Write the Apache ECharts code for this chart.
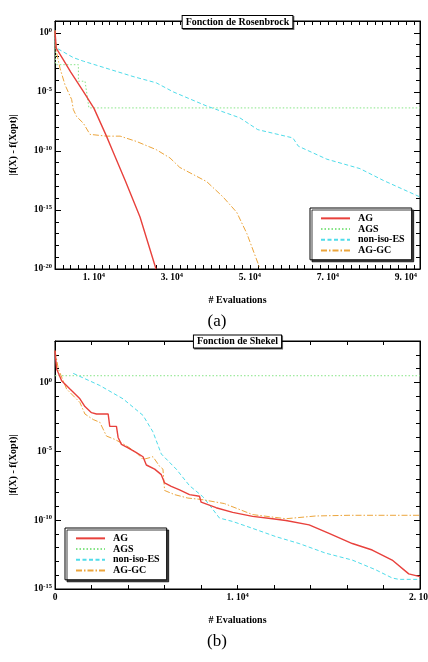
<!DOCTYPE html>
<html><head><meta charset="utf-8">
<script src="https://cdn.jsdelivr.net/npm/echarts@6/dist/echarts.min.js"></script>
<style>html,body{margin:0;padding:0;background:#fff}#c{width:428px;height:662px}</style>
</head><body><div id="c"></div>
<script>
// ---- data (y values are log10 of |f(X) - f(Xopt)|) ----
const seriesNames = ['AG', 'AGS', 'non-iso-ES', 'AG-GC'];
const titles = ['Fonction de Rosenbrock', 'Fonction de Shekel'];
const captions = ['(a)', '(b)'];
const yAxisTitle = '|f(X) - f(Xopt)|';
const xAxisTitle = '# Evaluations';

// (a) Rosenbrock
const rosenAG_x   = [0, 300, 2000, 4000, 7260, 10000, 13200, 14800, 18000, 21800, 25900];
const rosenAG_y   = [0.2, -1.3, -2.2, -3.3, -4.95, -6.4, -8.75, -10, -12.5, -15.6, -20];
const rosenAGS_x  = [0, 150, 6000, 6000, 7700, 8700, 93600];
const rosenAGS_y  = [0.2, -2.7, -2.7, -4.1, -4.1, -6.36, -6.36];
const rosenES_x   = [0, 300, 4700, 7260, 20000, 26000, 30300, 38900, 47400, 52000, 61000, 62400, 69700, 78200, 84200, 93600];
const rosenES_y   = [0.2, -1.27, -2.1, -2.4, -3.7, -4.24, -5.0, -6.2, -7.2, -8.2, -8.9, -9.6, -10.7, -11.5, -12.5, -13.9];
const rosenGC_x   = [0, 300, 1280, 2560, 4270, 4700, 5560, 7260, 8970, 13200, 16700, 20900, 26000, 29500, 32000, 38900, 43100, 46600, 49200, 52600];
const rosenGC_y   = [0.2, -1.5, -3.0, -4.4, -5.65, -6.5, -7.1, -7.65, -8.6, -8.75, -8.75, -9.2, -9.9, -10.6, -11.4, -12.6, -13.9, -15.2, -17.0, -20];

// (b) Shekel
const shekAG_x  = [0, 91, 364, 820, 1365, 1640, 2000, 2275, 2913, 3000, 3367, 3458, 3640, 4005, 4460, 4823, 5005, 5460, 5824, 6006, 6370, 6825, 7371, 7917, 8008, 8827, 9737, 10829, 11921, 12650, 13924, 15016, 16290, 17382, 18474, 19384, 20000];
const shekAG_y  = [2.3, 0.97, 0.12, -0.49, -1.2, -1.76, -2.2, -2.3, -2.3, -3.2, -3.2, -4.0, -4.5, -4.75, -5.1, -5.4, -6.0, -6.3, -6.7, -7.3, -7.55, -7.8, -8.15, -8.27, -8.7, -9.1, -9.44, -9.73, -9.9, -10.03, -10.35, -10.96, -11.7, -12.17, -12.9, -13.9, -14.1];
const shekAGS_x = [0, 20000];
const shekAGS_y = [0.48, 0.48];
const shekES_x  = [1000, 2457, 3731, 4823, 5369, 5824, 6643, 7371, 8099, 8463, 9010, 9737, 10829, 12103, 13378, 14834, 16290, 17564, 18474, 18838, 20000];
const shekES_y  = [0.65, -0.23, -1.2, -2.4, -3.6, -5.2, -6.3, -7.5, -8.3, -8.9, -9.85, -10.1, -10.6, -11.2, -11.7, -12.4, -12.9, -13.6, -14.2, -14.3, -14.3];
const shekGC_x  = [0, 182, 637, 1365, 1640, 2093, 2457, 2821, 3276, 3913, 4460, 4823, 5369, 5733, 5915, 6006, 6552, 7280, 8008, 9282, 10829, 12650, 14288, 16108, 20000];
const shekGC_y  = [2.3, 0.97, -0.49, -1.46, -2.3, -2.7, -2.9, -3.9, -4.14, -4.6, -5.1, -5.6, -5.4, -6.1, -6.3, -7.85, -8.15, -8.4, -8.5, -8.8, -9.6, -9.9, -9.7, -9.65, -9.65];

// axis ranges
const rosenXRange = [0, 93600];
const rosenYRange = [-20, 1];
const shekXRange  = [0, 20000];
const shekYRange  = [-15, 3];

// ---- styling ----
const FONT = '"Liberation Serif", "DejaVu Serif", serif';
const colors = ['#e8413c', '#86e486', '#4fdcea', '#eca53c'];
const lineTypes = ['solid', [1.5, 2], [4, 2.5], [6, 2, 1.5, 2]];
const widths = [1.4, 1, 1, 1];

const grids = [
  { left: 55, top: 21, width: 365, height: 248 },
  { left: 55, top: 341, width: 365, height: 248 }
];

const rich = {
  n: { fontFamily: FONT, fontWeight: 'bold', fontSize: 9.5, color: '#000', lineHeight: 12 },
  s: { fontFamily: FONT, fontWeight: 'bold', fontSize: 6.5, color: '#000', lineHeight: 7, verticalAlign: 'top' }
};

function pairs(xs, ys) { return xs.map((x, i) => [x, ys[i]]); }

const xAxis = [], yAxis = [];
function addAxes(gi, xr, yr, xMajor, xMinor, xFmt) {
  const base = { gridIndex: gi, type: 'value', splitLine: { show: false }, animation: false };
  const tick = (len) => ({ show: true, inside: true, length: len, lineStyle: { color: '#000', width: 1 } });
  const line = (show) => ({ show: show, onZero: false, lineStyle: { color: '#000', width: 1 } });
  const xi = xAxis.length;
  xAxis.push(Object.assign({}, base, {
    min: xr[0], max: xr[1], interval: xMajor, position: 'bottom',
    axisLine: line(true), axisTick: tick(4),
    axisLabel: { show: true, formatter: xFmt, rich: rich, margin: 3, showMaxLabel: gi === 1, showMinLabel: true, hideOverlap: false },
    name: xAxisTitle, nameLocation: 'middle', nameGap: 26,
    nameTextStyle: { fontFamily: FONT, fontWeight: 'bold', fontSize: 10, color: '#000' }
  }));
  xAxis.push(Object.assign({}, base, { min: xr[0], max: xr[1], interval: xMinor, position: 'bottom', axisLine: line(false), axisTick: tick(4), axisLabel: { show: false } }));
  xAxis.push(Object.assign({}, base, { min: xr[0], max: xr[1], interval: xMajor, position: 'top', axisLine: line(true), axisTick: tick(4), axisLabel: { show: false } }));
  xAxis.push(Object.assign({}, base, { min: xr[0], max: xr[1], interval: xMinor, position: 'top', axisLine: line(false), axisTick: tick(4), axisLabel: { show: false } }));

  const yi = yAxis.length;
  yAxis.push(Object.assign({}, base, {
    min: yr[0], max: yr[1], interval: 5, position: 'left',
    axisLine: line(true), axisTick: tick(6),
    axisLabel: { show: true, margin: 3, showMaxLabel: false, formatter: (v) => (v % 5 === 0 ? '{n|10}{s|' + v + '}' : ''), rich: rich },
    name: yAxisTitle, nameLocation: 'middle', nameGap: 37, nameRotate: 90,
    nameTextStyle: { fontFamily: FONT, fontWeight: 'bold', fontSize: 10, color: '#000' }
  }));
  yAxis.push(Object.assign({}, base, { min: yr[0], max: yr[1], interval: 1, position: 'left', axisLine: line(false), axisTick: tick(4), axisLabel: { show: false } }));
  yAxis.push(Object.assign({}, base, { min: yr[0], max: yr[1], interval: 5, position: 'right', axisLine: line(true), axisTick: tick(6), axisLabel: { show: false } }));
  yAxis.push(Object.assign({}, base, { min: yr[0], max: yr[1], interval: 1, position: 'right', axisLine: line(false), axisTick: tick(4), axisLabel: { show: false } }));
  return { xi, yi };
}

const fmtRosen = (v) => {
  const k = Math.round(v / 1e4);
  if (Math.abs(v - k * 1e4) > 1 || k % 2 === 0) return '';
  return '{n|' + k + '. 10}{s|4}';
};
const fmtShek = (v) => {
  if (v === 0) return '{n|0}';
  const k = Math.round(v / 1e4);
  if (Math.abs(v - k * 1e4) > 1) return '';
  return '{n|' + k + '. 10}{s|4}';
};

const a0 = addAxes(0, rosenXRange, rosenYRange, 10000, 2000, fmtRosen);
const a1 = addAxes(1, shekXRange, shekYRange, 10000, 2000, fmtShek);

const dataSets = [
  [pairs(rosenAG_x, rosenAG_y), pairs(rosenAGS_x, rosenAGS_y), pairs(rosenES_x, rosenES_y), pairs(rosenGC_x, rosenGC_y)],
  [pairs(shekAG_x, shekAG_y), pairs(shekAGS_x, shekAGS_y), pairs(shekES_x, shekES_y), pairs(shekGC_x, shekGC_y)]
];
const axesIdx = [a0, a1];
const series = [];
dataSets.forEach((ds, gi) => {
  ds.forEach((d, i) => {
    series.push({
      name: seriesNames[i], type: 'line', data: d,
      xAxisIndex: axesIdx[gi].xi, yAxisIndex: axesIdx[gi].yi,
      symbol: 'none', showSymbol: false, clip: true, animation: false,
      lineStyle: { color: colors[i], width: widths[i], type: lineTypes[i] },
      itemStyle: { color: colors[i] },
      z: 2 + (i === 0 ? 1 : 0)
    });
  });
});

const legendBase = {
  orient: 'vertical', data: seriesNames, selectedMode: false,
  itemWidth: 29, itemHeight: 8, itemGap: 0,
  padding: [5, 7, 4, 10],
  borderColor: '#000', borderWidth: 1, backgroundColor: '#fff',
  shadowColor: 'rgba(0,0,0,0.75)', shadowBlur: 0, shadowOffsetX: 2, shadowOffsetY: 2,
  itemStyle: { opacity: 0, color: 'transparent', borderWidth: 0 },
  textStyle: { fontFamily: FONT, fontWeight: 'bold', fontSize: 10, color: '#000', lineHeight: 10.7, padding: [0, 0, 0, 3] }
};

const graphic = [];
[22, 341.5].forEach((y, gi) => {
  graphic.push({
    type: 'text', x: 237.5, y: y, z: 50,
    style: {
      text: titles[gi], align: 'center', verticalAlign: 'middle',
      font: 'bold 10px ' + FONT, fill: '#000',
      backgroundColor: '#fff', borderColor: '#000', borderWidth: 1,
      padding: [1, 3, 1, 3],
      shadowColor: 'rgba(0,0,0,0.6)', shadowBlur: 0, shadowOffsetX: 1, shadowOffsetY: 1
    }
  });
});
[322, 642].forEach((y, gi) => {
  graphic.push({
    type: 'text', x: 217, y: y, z: 50,
    style: { text: captions[gi], align: 'center', verticalAlign: 'middle', font: '17px ' + FONT, fill: '#000' }
  });
});

const chart = echarts.init(document.getElementById('c'), null, { renderer: 'canvas' });
chart.setOption({
  animation: false,
  backgroundColor: '#fff',
  grid: grids.map(g => Object.assign({ show: true, borderColor: '#000', borderWidth: 1, backgroundColor: 'transparent', containLabel: false, outerBoundsMode: 'none' }, g)),
  xAxis: xAxis,
  yAxis: yAxis,
  legend: [
    Object.assign({}, legendBase, { left: 310, top: 208 }),
    Object.assign({}, legendBase, { left: 65, top: 528 })
  ],
  series: series,
  graphic: graphic
});
</script>
</body></html>
